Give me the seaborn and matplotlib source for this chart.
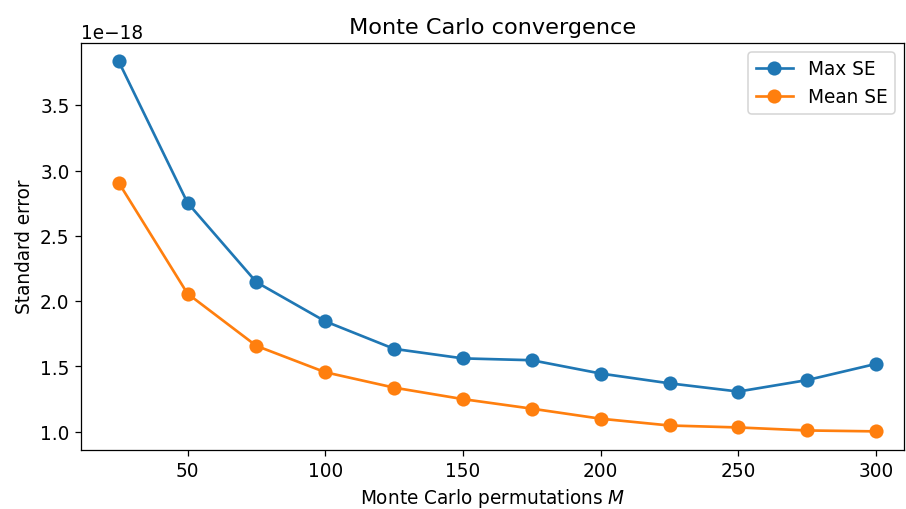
import numpy as np
import pandas as pd
import matplotlib
matplotlib.use("Agg")
import matplotlib.pyplot as plt
import seaborn as sns

# permutations and standard errors
M = [25, 50, 75, 100, 125, 150, 175, 200, 225, 250, 275, 300]
max_se = [3.838, 2.754, 2.146, 1.846, 1.635, 1.562, 1.548, 1.446, 1.371, 1.308, 1.396, 1.52]
mean_se = [2.908, 2.058, 1.658, 1.456, 1.338, 1.250, 1.177, 1.100, 1.048, 1.033, 1.010, 1.003]

df = pd.DataFrame({
    "M": M * 2,
    "se": [v * 1e-18 for v in max_se + mean_se],
    "series": ["Max SE"] * len(M) + ["Mean SE"] * len(M),
})

plt.rcParams["font.size"] = 11.8
fig, ax = plt.subplots(figsize=(8, 4.5), dpi=113.25)
fig.subplots_adjust(left=0.089, right=0.998, top=0.915, bottom=0.116)
sns.lineplot(data=df, x="M", y="se", hue="series", marker="o", markersize=9,
             markeredgewidth=0, linewidth=1.7, palette=["#1f77b4", "#ff7f0e"], ax=ax)
ax.set_xlim(11.2, 310.2)
ax.set_title("Monte Carlo convergence", fontsize=14.2)
ax.set_xlabel("Monte Carlo permutations $M$")
ax.set_ylabel("Standard error")
ax.legend(loc="upper right", title=None)
fig.savefig("out.png", dpi=113.25)
